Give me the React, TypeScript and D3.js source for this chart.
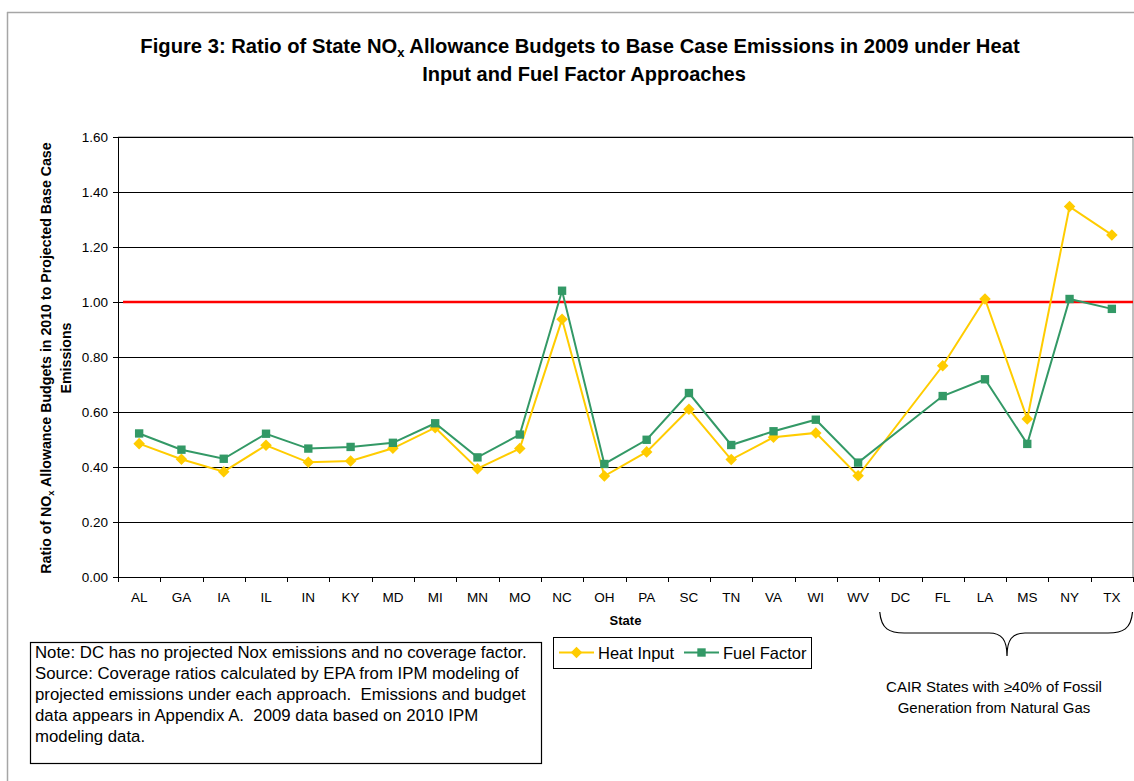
import React from "react";
import * as d3 from "d3";

const states = ["AL","GA","IA","IL","IN","KY","MD","MI","MN","MO","NC","OH","PA","SC","TN","VA","WI","WV","DC","FL","LA","MS","NY","TX"];
const heatInput: (number | null)[] = [0.485,0.428,0.383,0.479,0.417,0.422,0.468,0.543,0.394,0.467,0.937,0.367,0.455,0.610,0.427,0.508,0.524,0.368,null,0.768,1.011,0.575,1.347,1.244];
const fuelFactor: (number | null)[] = [0.522,0.463,0.430,0.521,0.467,0.473,0.488,0.559,0.435,0.518,1.041,0.411,0.499,0.669,0.480,0.530,0.572,0.416,null,0.658,0.719,0.484,1.011,0.975];
const yTicks = [0, 0.2, 0.4, 0.6, 0.8, 1.0, 1.2, 1.4, 1.6];
const threshold = 1.0;
const noteLines = [
  "Note: DC has no projected Nox emissions and no coverage factor.",
  "Source: Coverage ratios calculated by EPA from IPM modeling of",
  "projected emissions under each approach.  Emissions and budget",
  "data appears in Appendix A.  2009 data based on 2010 IPM",
  "modeling data.",
];
const cairLines = ["CAIR States with \u226540% of Fossil", "Generation from Natural Gas"];

const FONT = "'Liberation Sans', Arial, Helvetica, sans-serif";
const YELLOW = "#FFCC00";
const GREEN = "#339966";

const W = 1134, H = 781;
const PL = 118, PR = 1133, PT = 137, PB = 577;

export default function App() {
  const x = d3.scaleBand<string>().domain(states).range([PL, PR]).padding(0);
  const y = d3.scaleLinear().domain([0, 1.6]).range([PB, PT]);
  const cx = (s: string) => (x(s) as number) + x.bandwidth() / 2;

  const mk = (vals: (number | null)[]) =>
    states.map((s, i) => ({ s, v: vals[i] })).filter((d) => d.v !== null) as { s: string; v: number }[];
  const hi = mk(heatInput);
  const ff = mk(fuelFactor);
  const line = d3.line<{ s: string; v: number }>().x((d) => cx(d.s)).y((d) => y(d.v));

  const diamond = d3.symbol().type(d3.symbolDiamond2 || d3.symbolDiamond).size(85)();
  const square = d3.symbol().type(d3.symbolSquare).size(70)();

  const edges = states.map((s) => x(s) as number).concat([PR]);
  const dcL = x("DC") as number;
  const tip = 1007;

  return (
    <svg width={W} height={H} style={{ position: "absolute", left: 0, top: 0, background: "#fff" }} fontFamily={FONT}>
      <rect x={0} y={0} width={W} height={H} fill="#fff" />
      {/* outer chart border */}
      <line x1={7} y1={12.5} x2={W} y2={12.5} stroke="#A6A6A6" strokeWidth={1.5} />
      <line x1={7.5} y1={12} x2={7.5} y2={H} stroke="#A6A6A6" strokeWidth={1.5} />

      {/* title */}
      <text x={580} y={53} textAnchor="middle" fontSize={20.2} fontWeight="bold" fill="#000">
        Figure 3: Ratio of State NO<tspan fontSize={13} dy={4}>x</tspan>
        <tspan dy={-4}> Allowance Budgets to Base Case Emissions in 2009 under Heat</tspan>
      </text>
      <text x={584} y={81} textAnchor="middle" fontSize={20} fontWeight="bold" fill="#000">
        Input and Fuel Factor Approaches
      </text>

      {/* plot area border */}
      <line x1={PL} y1={PT} x2={PR} y2={PT} stroke="#808080" strokeWidth={1} />
      <line x1={PR} y1={PT} x2={PR} y2={PB} stroke="#808080" strokeWidth={1} />

      {/* gridlines */}
      {yTicks.filter((t) => t > 0).map((t) => (
        <line key={"g" + t} x1={PL} x2={PR} y1={Math.round(y(t)) + 0.5} y2={Math.round(y(t)) + 0.5} stroke="#000" strokeWidth={1} />
      ))}

      {/* y axis */}
      <line x1={PL + 0.5} x2={PL + 0.5} y1={PT} y2={PB} stroke="#000" strokeWidth={1} />
      {yTicks.map((t) => (
        <g key={"yt" + t}>
          <line x1={PL - 5} x2={PL} y1={Math.round(y(t)) + 0.5} y2={Math.round(y(t)) + 0.5} stroke="#000" />
          <text x={PL - 10} y={y(t)} dy="0.35em" textAnchor="end" fontSize={13.5} fill="#000">
            {t.toFixed(2)}
          </text>
        </g>
      ))}

      {/* x axis */}
      <line x1={PL} x2={PR} y1={PB + 0.5} y2={PB + 0.5} stroke="#000" strokeWidth={1} />
      {edges.map((e, i) => (
        <line key={"xt" + i} x1={Math.round(e) + 0.5} x2={Math.round(e) + 0.5} y1={PB} y2={PB + 5} stroke="#000" />
      ))}
      {states.map((s) => (
        <text key={"xl" + s} x={cx(s)} y={602} textAnchor="middle" fontSize={13.5} fill="#000">
          {s}
        </text>
      ))}
      <text x={(PL + PR) / 2} y={625} textAnchor="middle" fontSize={13} fontWeight="bold" fill="#000">
        State
      </text>

      {/* y axis title */}
      <g transform={`translate(46, ${(PT + PB) / 2 + 1}) rotate(-90)`}>
        <text x={0} y={5} textAnchor="middle" fontSize={14.2} fontWeight="bold" fill="#000">
          Ratio of NO<tspan fontSize={9.5} dy={3}>x</tspan>
          <tspan dy={-3}> Allowance Budgets in 2010 to Projected Base Case</tspan>
        </text>
        <text x={0} y={25} textAnchor="middle" fontSize={14.2} fontWeight="bold" fill="#000">
          Emissions
        </text>
      </g>

      {/* threshold line */}
      <line x1={PL + 5} x2={PR} y1={y(threshold)} y2={y(threshold)} stroke="#FF0000" strokeWidth={2.5} />

      {/* series */}
      <path d={line(hi) || ""} fill="none" stroke={YELLOW} strokeWidth={2} />
      {hi.map((d) => (
        <path key={"hi" + d.s} d={diamond || ""} transform={`translate(${cx(d.s)},${y(d.v)})`} fill={YELLOW} />
      ))}
      <path d={line(ff) || ""} fill="none" stroke={GREEN} strokeWidth={2} />
      {ff.map((d) => (
        <path key={"ff" + d.s} d={square || ""} transform={`translate(${cx(d.s)},${y(d.v)})`} fill={GREEN} />
      ))}

      {/* legend */}
      <rect x={553.5} y={637.5} width={258} height={31} fill="#fff" stroke="#000" strokeWidth={1} />
      <line x1={559} x2={594} y1={652.5} y2={652.5} stroke={YELLOW} strokeWidth={2} />
      <path d={diamond || ""} transform="translate(576.5,652.5)" fill={YELLOW} />
      <text x={598} y={658.5} fontSize={16.5} fill="#000">Heat Input</text>
      <line x1={684} x2={719} y1={652.5} y2={652.5} stroke={GREEN} strokeWidth={2} />
      <path d={square || ""} transform="translate(701.5,652.5)" fill={GREEN} />
      <text x={723} y={658.5} fontSize={16.5} fill="#000">Fuel Factor</text>

      {/* note box */}
      <rect x={30.5} y={642.5} width={511} height={121} fill="#fff" stroke="#000" strokeWidth={1.2} />
      {noteLines.map((l, i) => (
        <text key={"n" + i} x={35} y={658 + i * 21} fontSize={16.8} fill="#000" style={{ whiteSpace: "pre" }}>
          {l}
        </text>
      ))}

      {/* brace */}
      <path
        d={`M ${dcL + 0.5} 612 C ${dcL + 2} 629, ${dcL + 10} 633, ${dcL + 25} 633 L ${tip - 18} 633 C ${tip - 5} 633, ${tip} 640, ${tip} 656 C ${tip} 640, ${tip + 5} 633, ${tip + 18} 633 L ${PR - 25} 633 C ${PR - 10} 633, ${PR - 2} 629, ${PR - 0.5} 612`}
        fill="none"
        stroke="#000"
        strokeWidth={1.2}
      />
      {cairLines.map((l, i) => (
        <text key={"c" + i} x={994} y={692 + i * 21} textAnchor="middle" fontSize={15} fill="#000">
          {l}
        </text>
      ))}
    </svg>
  );
}
